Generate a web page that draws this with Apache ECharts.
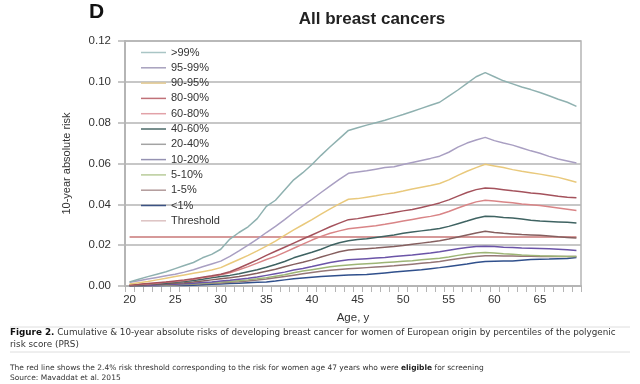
<!DOCTYPE html>
<html><head><meta charset="utf-8">
<script src="https://cdn.jsdelivr.net/npm/echarts@6/dist/echarts.min.js"></script>
<style>html,body{margin:0;padding:0;background:#fff}#c{width:640px;height:384px}</style>
</head><body><div id="c"></div>
<script>
const ages = [20,21,22,23,24,25,26,27,28,29,30,31,32,33,34,35,36,37,38,39,40,41,42,43,44,45,46,47,48,49,50,51,52,53,54,55,56,57,58,59,60,61,62,63,64,65,66,67,68,69];
const yTicks = [0,0.02,0.04,0.06,0.08,0.10,0.12];
const seriesNames = ['>99%','95-99%','90-95%','80-90%','60-80%','40-60%','20-40%','10-20%','5-10%','1-5%','<1%','Threshold'];
const p99 = [0.0020,0.0033,0.0046,0.0058,0.0070,0.0085,0.0100,0.0115,0.0138,0.0155,0.0180,0.0230,0.0262,0.0290,0.0330,0.0390,0.0420,0.0470,0.0520,0.0555,0.0595,0.0640,0.0682,0.0722,0.0762,
  0.0775,0.0788,0.0800,0.0812,0.0826,0.0840,0.0855,0.0870,0.0885,0.0900,0.0930,0.0960,0.0992,0.1025,0.1045,0.1025,0.1005,0.0990,0.0975,0.0962,0.0948,0.0932,0.0915,0.0900,0.0880];
const p95 = [0.0018,0.0026,0.0034,0.0042,0.0050,0.0058,0.0068,0.0080,0.0094,0.0108,0.0122,0.0145,0.0172,0.0200,0.0230,0.0262,0.0292,0.0325,0.0360,0.0392,0.0425,0.0458,0.0490,0.0522,0.0552,
  0.0558,0.0564,0.0572,0.0580,0.0584,0.0595,0.0605,0.0615,0.0625,0.0636,0.0655,0.0680,0.0700,0.0715,0.0728,0.0712,0.0700,0.0690,0.0676,0.0662,0.0650,0.0635,0.0622,0.0612,0.0602];
const p90 = [0.0010,0.0016,0.0022,0.0030,0.0038,0.0046,0.0054,0.0062,0.0070,0.0078,0.0090,0.0110,0.0130,0.0150,0.0172,0.0195,0.0220,0.0248,0.0275,0.0300,0.0325,0.0352,0.0378,0.0402,0.0425,
  0.0428,0.0435,0.0442,0.0450,0.0456,0.0465,0.0475,0.0484,0.0492,0.0502,0.0520,0.0542,0.0562,0.0580,0.0596,0.0588,0.0580,0.0570,0.0562,0.0555,0.0548,0.0540,0.0532,0.0520,0.0508];
const p80 = [0.0005,0.0008,0.0012,0.0016,0.0020,0.0025,0.0030,0.0036,0.0043,0.0050,0.0058,0.0070,0.0088,0.0108,0.0128,0.0150,0.0170,0.0190,0.0210,0.0230,0.0250,0.0270,0.0290,0.0308,0.0325,
  0.0330,0.0338,0.0345,0.0352,0.0360,0.0368,0.0375,0.0385,0.0395,0.0407,0.0422,0.0440,0.0458,0.0472,0.0480,0.0478,0.0472,0.0466,0.0462,0.0456,0.0452,0.0446,0.0440,0.0435,0.0432];
const p60 = [0.0005,0.0007,0.0010,0.0014,0.0018,0.0022,0.0027,0.0033,0.0040,0.0047,0.0055,0.0065,0.0080,0.0095,0.0112,0.0130,0.0145,0.0165,0.0185,0.0205,0.0225,0.0243,0.0258,0.0270,0.0280,
  0.0285,0.0290,0.0295,0.0302,0.0310,0.0318,0.0326,0.0334,0.0341,0.0350,0.0365,0.0382,0.0398,0.0412,0.0420,0.0416,0.0412,0.0408,0.0402,0.0398,0.0394,0.0388,0.0382,0.0376,0.0370];
const p40 = [0.0003,0.0005,0.0008,0.0011,0.0014,0.0018,0.0022,0.0027,0.0033,0.0040,0.0046,0.0052,0.0060,0.0070,0.0080,0.0092,0.0105,0.0120,0.0138,0.0152,0.0165,0.0180,0.0198,0.0212,0.0222,
  0.0228,0.0232,0.0238,0.0244,0.0250,0.0258,0.0265,0.0270,0.0275,0.0282,0.0292,0.0305,0.0318,0.0332,0.0342,0.0340,0.0336,0.0333,0.0328,0.0322,0.0318,0.0316,0.0314,0.0312,0.0308];
const p20 = [0.0002,0.0004,0.0006,0.0008,0.0010,0.0013,0.0016,0.0020,0.0025,0.0030,0.0035,0.0040,0.0046,0.0054,0.0062,0.0072,0.0082,0.0094,0.0106,0.0116,0.0128,0.0142,0.0155,0.0168,0.0176,
  0.0180,0.0183,0.0186,0.0190,0.0193,0.0198,0.0204,0.0210,0.0215,0.0222,0.0230,0.0240,0.0250,0.0260,0.0268,0.0262,0.0258,0.0255,0.0252,0.0250,0.0248,0.0245,0.0241,0.0238,0.0235];
const p10 = [0.0001,0.0002,0.0003,0.0005,0.0007,0.0009,0.0011,0.0014,0.0017,0.0020,0.0024,0.0028,0.0033,0.0038,0.0044,0.0052,0.0060,0.0068,0.0078,0.0086,0.0095,0.0105,0.0115,0.0122,0.0128,
  0.0131,0.0134,0.0137,0.0140,0.0144,0.0148,0.0152,0.0157,0.0162,0.0168,0.0175,0.0182,0.0188,0.0194,0.0195,0.0193,0.0190,0.0188,0.0186,0.0185,0.0184,0.0182,0.0180,0.0177,0.0174];
const p5 = [0.0001,0.0002,0.0003,0.0004,0.0005,0.0007,0.0009,0.0011,0.0013,0.0016,0.0019,0.0022,0.0026,0.0030,0.0035,0.0041,0.0048,0.0055,0.0065,0.0073,0.0080,0.0087,0.0094,0.0099,0.0103,
  0.0106,0.0109,0.0112,0.0115,0.0118,0.0121,0.0124,0.0128,0.0132,0.0136,0.0142,0.0150,0.0157,0.0162,0.0164,0.0162,0.0158,0.0155,0.0152,0.0150,0.0148,0.0147,0.0146,0.0145,0.0144];
const p1 = [0.0000,0.0001,0.0002,0.0003,0.0004,0.0005,0.0007,0.0009,0.0011,0.0013,0.0015,0.0018,0.0021,0.0025,0.0029,0.0034,0.0040,0.0046,0.0053,0.0060,0.0066,0.0072,0.0077,0.0081,0.0084,
  0.0087,0.0090,0.0093,0.0096,0.0099,0.0103,0.0107,0.0111,0.0115,0.0120,0.0127,0.0134,0.0140,0.0145,0.0148,0.0148,0.0147,0.0147,0.0146,0.0146,0.0145,0.0145,0.0145,0.0145,0.0144];
const p0 = [0.0000,0.0000,0.0001,0.0001,0.0002,0.0002,0.0003,0.0004,0.0006,0.0008,0.0010,0.0012,0.0014,0.0016,0.0018,0.0020,0.0024,0.0030,0.0035,0.0039,0.0043,0.0046,0.0049,0.0052,0.0054,
  0.0055,0.0056,0.0060,0.0064,0.0068,0.0072,0.0076,0.0080,0.0085,0.0090,0.0096,0.0102,0.0108,0.0115,0.0120,0.0121,0.0122,0.0122,0.0126,0.0130,0.0131,0.0132,0.0134,0.0135,0.0139];
const thresholdValue = 0.024;
const threshold = ages.map(() => thresholdValue);

const allData = [p99,p95,p90,p80,p60,p40,p20,p10,p5,p1,p0,threshold];
const lineColors = ['#8fb1b0','#a99fc2','#e9c97c','#a4525c','#d98587','#3f6362','#855f5f','#6b54a8','#9db575','#957676','#30508c','#c97878'];
const legendColors = ['#a9c5c5','#a7a1bd','#e3c98f','#c07178','#e2a2a8','#4b6a68','#a3a3a3','#9592b2','#b9cc9a','#b29a9a','#3b5283','#ddc2c2'];

const FONT = 'Liberation Sans';
const CAP = 'DejaVu Sans';
const chart = echarts.init(document.getElementById('c'), null, {renderer:'canvas'});
chart.setOption({
  animation: false,
  textStyle: {fontFamily: FONT},
  grid: {left:125, right:59, top:41, bottom:98, show:true, borderColor:'#b5b5b5', borderWidth:1.5},
  legend: {
    orient:'vertical', left:136, top:42, itemWidth:25, itemHeight:11, itemGap:4.3,
    icon:'path://M0,0H25V1.5H0Z', symbolKeepAspect:true,
    textStyle:{fontSize:11, color:'#333', fontFamily:FONT},
    data: seriesNames.map((n,i)=>({name:n, itemStyle:{color:legendColors[i]}}))
  },
  xAxis: {
    type:'category', data: ages, boundaryGap:true,
    name:'Age, y', nameLocation:'middle', nameGap:26,
    nameTextStyle:{fontSize:11.5, color:'#333'},
    axisLine:{lineStyle:{color:'#b5b5b5', width:2}},
    axisTick:{show:true, interval:0, length:6, lineStyle:{color:'#b5b5b5', width:1}},
    axisLabel:{interval:4, fontSize:11.5, color:'#333', margin:8},
    splitLine:{show:false}
  },
  yAxis: {
    type:'value', min:yTicks[0], max:yTicks[yTicks.length-1], interval:0.02,
    name:'10-year absolute risk', nameLocation:'middle', nameGap:53, nameRotate:90,
    nameTextStyle:{fontSize:11, color:'#333'},
    axisLine:{show:true, lineStyle:{color:'#b5b5b5', width:2}},
    axisTick:{show:true, length:7, lineStyle:{color:'#b5b5b5', width:1.5}},
    axisLabel:{fontSize:11.5, color:'#333', margin:14, formatter:v=>v.toFixed(2)},
    splitLine:{lineStyle:{color:'#b5b5b5', width:1.5}}
  },
  series: seriesNames.map((n,i)=>({
    name:n, type:'line', data: allData[i], symbol:'none', smooth:false,
    z: i===11 ? 1 : 2 + (11-i),
    lineStyle:{color:lineColors[i], width:1.5}, itemStyle:{color:lineColors[i]}
  })),
  graphic: [
    {type:'text', x:89, y:2, style:{text:'D', font:'bold 21px '+FONT, fill:'#111'}},
    {type:'text', x:372, y:11, style:{text:'All breast cancers', font:'bold 17px '+FONT, fill:'#222', textAlign:'center'}},
    {type:'line', shape:{x1:10,y1:327,x2:630,y2:327}, style:{stroke:'#dedede', lineWidth:1}},
    {type:'text', x:10, y:328, style:{text:'{b|Figure 2.} Cumulative & 10-year absolute risks of developing breast cancer for women of European origin by percentiles of the polygenic', font:'8.8px '+CAP, fill:'#333',
      rich:{b:{fontWeight:'bold', fontSize:8.8, fontFamily:CAP, fill:'#111'}}}},
    {type:'text', x:10, y:340, style:{text:'risk score (PRS)', font:'8.8px '+CAP, fill:'#333'}},
    {type:'line', shape:{x1:10,y1:352,x2:630,y2:352}, style:{stroke:'#dedede', lineWidth:1}},
    {type:'text', x:10, y:364, style:{text:'The red line shows the 2.4% risk threshold corresponding to the risk for women age 47 years who were {b|eligible} for screening', font:'7.5px '+CAP, fill:'#333',
      rich:{b:{fontWeight:'bold', fontSize:7.5, fontFamily:CAP, fill:'#222'}}}},
    {type:'text', x:10, y:374, style:{text:'Source: Mavaddat et al. 2015', font:'7.5px '+CAP, fill:'#333'}}
  ]
});
</script></body></html>
